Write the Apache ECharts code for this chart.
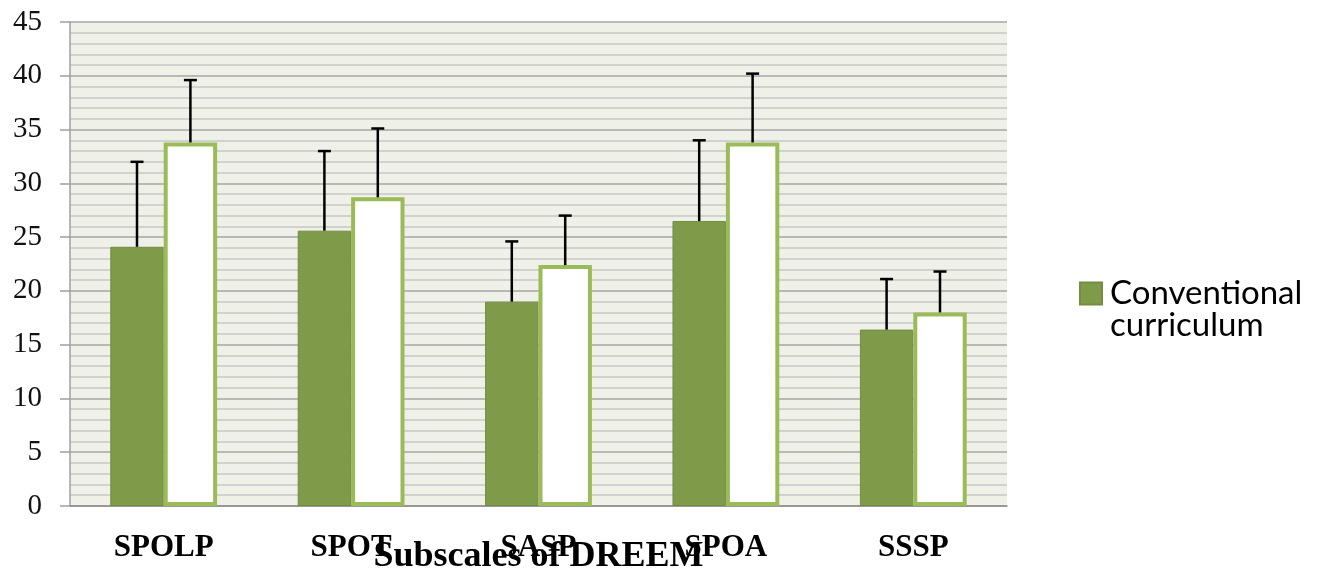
<!DOCTYPE html>
<html>
<head>
<meta charset="utf-8">
<script src="https://cdn.jsdelivr.net/npm/echarts@6/dist/echarts.min.js"></script>
<style>html,body{margin:0;padding:0;background:#fff;}#c{width:1324px;height:568px;}</style>
</head>
<body>
<div id="c"></div>
<script>
const categories = ['SPOLP', 'SPOT', 'SASP', 'SPOA', 'SSSP'];
const conventionalMean = [24.1, 25.6, 19.0, 26.5, 16.4];
const conventionalSD = [7.9, 7.4, 5.6, 7.5, 4.7];
const otherMean = [33.8, 28.7, 22.4, 33.8, 18.0];
const otherSD = [5.8, 6.4, 4.6, 6.4, 3.8];
const yTicks = [0, 5, 10, 15, 20, 25, 30, 35, 40, 45];

const chart = echarts.init(document.getElementById('c'));
const CAT_GAP = 0.43;

function errorSeries(name, means, sds, side) {
  return {
    type: 'custom',
    name: name + ' SD',
    z: 10,
    data: means.map((m, i) => [i, m, m + sds[i]]),
    renderItem: function (params, api) {
      const i = api.value(0);
      const band = api.size([1, 0])[0];
      const barW = band * (1 - CAT_GAP) / 2;
      const base = api.coord([i, api.value(1)]);
      const top = api.coord([i, api.value(2)]);
      const x = base[0] + side * barW / 2;
      const cap = 6.5;
      const st = { stroke: '#000', lineWidth: 2.5 };
      return {
        type: 'group',
        children: [
          { type: 'line', shape: { x1: x, y1: base[1], x2: x, y2: top[1] }, style: st },
          { type: 'line', shape: { x1: x - cap, y1: top[1], x2: x + cap, y2: top[1] }, style: st }
        ]
      };
    }
  };
}

chart.setOption({
  animation: false,
  grid: {
    left: 70, right: 317, top: 22, bottom: 62,
    show: true, backgroundColor: '#EFF1E9', borderWidth: 0,
    containLabel: false, outerBoundsMode: 'none'
  },
  legend: {
    data: ['Conventional curriculum'],
    left: 1074, top: 240,
    orient: 'vertical',
    icon: 'rect',
    itemWidth: 22, itemHeight: 22,
    itemGap: 8,
    formatter: function () { return '\nConventional\ncurriculum'; },
    textStyle: { fontFamily: 'Lato', fontSize: 33, color: '#000', lineHeight: 32, padding: [0, 0, 0, 3] }
  },
  xAxis: {
    type: 'category',
    data: categories,
    name: 'Subscales of DREEM',
    nameLocation: 'middle',
    nameGap: 33,
    nameMoveOverlap: false,
    nameTextStyle: { fontFamily: 'Liberation Serif', fontWeight: 'bold', fontSize: 36, color: '#000' },
    axisLine: { show: true, lineStyle: { color: '#8C8C8C', width: 1.5 } },
    axisTick: { show: false },
    axisLabel: { fontFamily: 'Liberation Serif', fontWeight: 'bold', fontSize: 31, color: '#000', margin: 26 },
    splitLine: { show: false }
  },
  yAxis: {
    type: 'value',
    min: 0, max: 45, interval: 5,
    axisLine: { show: true, lineStyle: { color: '#A0A0A0', width: 1.5 } },
    axisTick: { show: true, length: 10, lineStyle: { color: '#A0A0A0', width: 1.5 } },
    axisLabel: {
      fontFamily: 'Liberation Serif', fontSize: 29, color: '#111', margin: 28,
      formatter: function (v) { return yTicks.indexOf(v) >= 0 ? String(v) : ''; }
    },
    splitLine: { show: true, lineStyle: { color: '#A6A6A6', width: 1.5 } },
    minorTick: { show: false, splitNumber: 5 },
    minorSplitLine: { show: true, lineStyle: { color: '#C8C8C8', width: 1.5 } }
  },
  series: [
    {
      type: 'bar',
      name: 'Conventional curriculum',
      data: conventionalMean,
      barGap: '0%',
      barCategoryGap: '43%',
      itemStyle: { color: '#7F9A48', borderColor: '#738C40', borderWidth: 1 }
    },
    {
      type: 'bar',
      name: 'Problem-based curriculum',
      data: otherMean,
      barGap: '0%',
      barCategoryGap: '43%',
      itemStyle: { color: '#FFFFFF', borderColor: '#9BBB59', borderWidth: 4 }
    },
    errorSeries('Conventional curriculum', conventionalMean, conventionalSD, -1),
    errorSeries('Problem-based curriculum', otherMean, otherSD, 1)
  ]
});
</script>
</body>
</html>
